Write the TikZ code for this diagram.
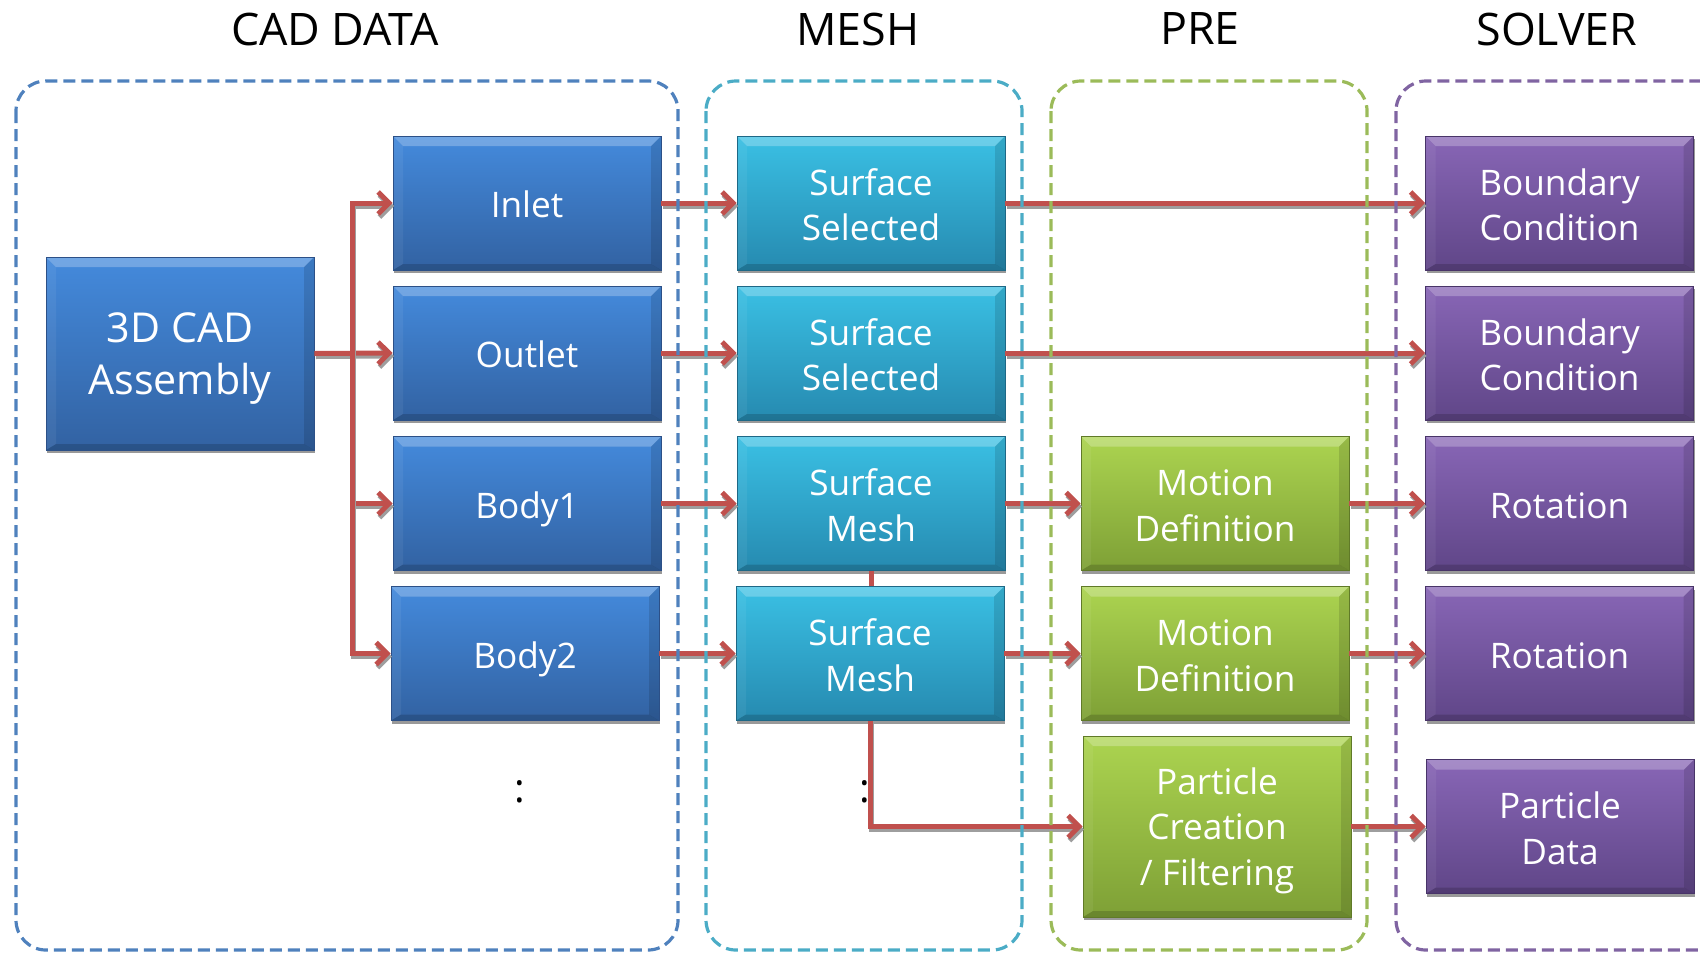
\documentclass[tikz,border=0pt]{standalone}
\usepackage{fontspec}
\setmainfont{Open Sans}
\usetikzlibrary{arrows.meta}

% palette
\definecolor{cadTop}{RGB}{68,138,220}
\definecolor{cadBot}{RGB}{50,98,162}
\definecolor{cadEdge}{RGB}{44,80,135}
\definecolor{meshTop}{RGB}{58,192,228}
\definecolor{meshBot}{RGB}{38,138,176}
\definecolor{meshEdge}{RGB}{30,104,134}
\definecolor{preTop}{RGB}{172,212,80}
\definecolor{preBot}{RGB}{126,160,54}
\definecolor{preEdge}{RGB}{96,122,40}
\definecolor{solTop}{RGB}{136,102,182}
\definecolor{solBot}{RGB}{96,70,136}
\definecolor{solEdge}{RGB}{72,52,104}
\definecolor{grpCad}{RGB}{79,129,189}
\definecolor{grpMesh}{RGB}{75,172,198}
\definecolor{grpPre}{RGB}{155,187,89}
\definecolor{grpSol}{RGB}{128,100,162}
\definecolor{linkRed}{RGB}{192,80,77}

\newcommand\boxfont{\fontsize{17.6}{22.8}\selectfont}
\newcommand\bigboxfont{\fontsize{20.6}{25.8}\selectfont}
\newcommand\titlefont{\fontsize{22.4}{26}\selectfont}
% centred stack of label lines
\newcommand\stack[1]{\begin{tabular}{@{}c@{}}#1\end{tabular}}

\begin{document}
\begin{tikzpicture}[x=0.5pt,y=-0.5pt,
  bevel/.style={path picture={
    \fill[white,opacity=0.25] (path picture bounding box.north west) -- (path picture bounding box.north east)
      -- ([shift={(-5pt,-5pt)}]path picture bounding box.north east) -- ([shift={(5pt,-5pt)}]path picture bounding box.north west) -- cycle;
    \fill[black,opacity=0.16] (path picture bounding box.south west) -- (path picture bounding box.south east)
      -- ([shift={(-5pt,3pt)}]path picture bounding box.south east) -- ([shift={(5pt,3pt)}]path picture bounding box.south west) -- cycle;
    \fill[black,opacity=0.12] (path picture bounding box.north east) -- (path picture bounding box.south east)
      -- ([shift={(-5pt,3pt)}]path picture bounding box.south east) -- ([shift={(-5pt,-5pt)}]path picture bounding box.north east) -- cycle;
    \fill[white,opacity=0.06] (path picture bounding box.north west) -- (path picture bounding box.south west)
      -- ([shift={(5pt,3pt)}]path picture bounding box.south west) -- ([shift={(5pt,-5pt)}]path picture bounding box.north west) -- cycle;
  }},
  % fixed text height/depth sets the label lines slightly below the box middle
  box/.style={minimum width=134pt, minimum height=67pt, inner sep=0pt,
    text=white, font=\boxfont, line width=0.4pt, bevel,
    text height=29.5pt, text depth=15pt,
    preaction={fill=black!40, transform canvas={shift={(0.6pt,-1.5pt)}}}},
  cadbox/.style={box, top color=cadTop, bottom color=cadBot, draw=cadEdge},
  meshbox/.style={box, top color=meshTop, bottom color=meshBot, draw=meshEdge},
  prebox/.style={box, top color=preTop, bottom color=preBot, draw=preEdge},
  solbox/.style={box, top color=solTop, bottom color=solBot, draw=solEdge},
  link/.style={draw=linkRed, line width=2.5pt, -{Straight Barb[length=5.5pt,width=11pt]},
    preaction={draw=black!38, line width=2.5pt, -{Straight Barb[length=5.5pt,width=11pt]},
      transform canvas={shift={(0.7pt,-1.5pt)}}}},
  joint/.style={draw=linkRed, line width=2.5pt},
  group/.style={line width=1.6pt, dash pattern=on 6pt off 3pt, rounded corners=15pt},
  title/.style={font=\titlefont, text=black, inner sep=0pt},
  dots/.style={font=\fontsize{20}{24}\selectfont, text=black, inner sep=0pt}
]
\useasboundingbox (0,0) rectangle (1700,953);

% column titles
\node[title] (tcad) at (335,29) {CAD DATA};
\node[title] (tmesh) at (858,29) {MESH};
\node[title] (tpre) at (1200,29) {PRE};
\node[title] (tsol) at (1557,29) {SOLVER};

% CAD data
\node[cadbox, font=\bigboxfont, minimum height=96.5pt, text height=30.3pt, text depth=15pt]
  (cad) at (180,353.5) {\stack{3D CAD\\Assembly}};
\node[cadbox] (inlet) at (527,203) {\stack{Inlet}};
\node[cadbox] (outlet) at (527,353) {\stack{Outlet}};
\node[cadbox] (body1) at (527,503.5) {\stack{Body1}};
\node[cadbox] (body2) at (525,653.5) {\stack{Body2}};
\node[dots] (cdots) at (520,792) {:};

% mesh
\node[meshbox] (ss1) at (871,203) {\stack{Surface\\Selected}};
\node[meshbox] (ss2) at (871,353) {\stack{Surface\\Selected}};
\node[meshbox] (sm1) at (871,503.5) {\stack{Surface\\Mesh}};
\node[meshbox] (sm2) at (870,653.5) {\stack{Surface\\Mesh}};
\node[dots] (mdots) at (865,792) {:};

% pre-processing
\node[prebox] (md1) at (1215,503.5) {\stack{Motion\\Definition}};
\node[prebox] (md2) at (1215,653.5) {\stack{Motion\\Definition}};
\node[prebox, minimum height=90.5pt, text height=28pt, text depth=15pt]
  (pc) at (1217,826.5) {\stack{Particle\\Creation\\/ Filtering}};

% solver
\node[solbox] (bc1) at (1559.5,203) {\stack{Boundary\\Condition}};
\node[solbox] (bc2) at (1559.5,353) {\stack{Boundary\\Condition}};
\node[solbox] (rot1) at (1559.5,503.5) {\stack{Rotation}};
\node[solbox] (rot2) at (1559.5,653.5) {\stack{Rotation}};
\node[solbox] (pd) at (1560,826.5) {\stack{Particle\\Data}};

% connectors
\coordinate (j) at (352,353);
\draw[link] (cad.east) -- (outlet.west);
\draw[link] (j) |- (inlet.west);
\draw[link] (j) |- (body1.west);
\draw[link] (j) |- (body2.west);

\draw[link] (inlet) -- (ss1);
\draw[link] (outlet) -- (ss2);
\draw[link] (body1) -- (sm1);
\draw[link] (body2.east) -- (sm2.west);

\draw[link] (ss1) -- (bc1);
\draw[link] (ss2) -- (bc2);
\draw[link] (sm1) -- (md1);
\draw[link] (sm2) -- (md2);
\draw[joint] (sm1.south) -- (sm2.north -| sm1.south);
\draw[link] (sm2.south) |- (pc.west);

\draw[link] (md1) -- (rot1);
\draw[link] (md2) -- (rot2);
\draw[link] (pc) -- (pd);

% stage frames
\draw[group, draw=grpCad] (16,81) rectangle (678,950);
\draw[group, draw=grpMesh] (706,81) rectangle (1022,950);
\draw[group, draw=grpPre] (1051,81) rectangle (1367,950);
\draw[group, draw=grpSol] (1396,81) rectangle (1740,950);
\end{tikzpicture}
\end{document}
